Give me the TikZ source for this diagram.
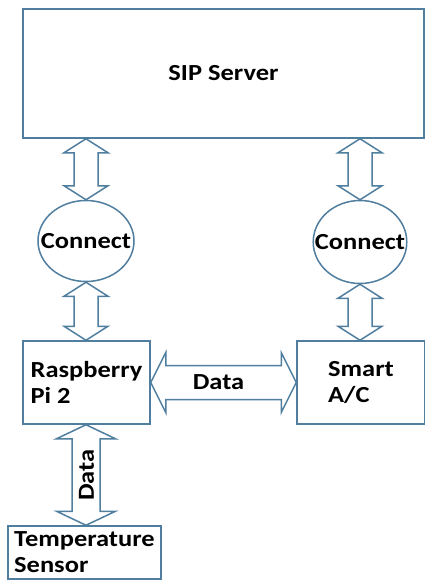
\documentclass[tikz,border=0pt]{standalone}
\usepackage{fontspec}
\setmainfont{Carlito}[FakeStretch=1.15]
\usetikzlibrary{shapes.geometric,calc}

\definecolor{edgeblue}{RGB}{80,126,158}

\tikzset{
  lbl/.style={font=\bfseries\fontsize{23}{26}\selectfont,inner sep=1pt},
  box/.style={lbl,draw=edgeblue,line width=1.5pt,align=left,inner sep=2pt},
  conn/.style={lbl,ellipse,draw=edgeblue,line width=1.5pt,inner xsep=-12pt,inner ysep=0pt},
  fat/.style={draw=edgeblue,line width=1.5pt},
  % vertical double arrow: head half width, shaft half width, head length
  vfat/.style n args={3}{to path={let \p1=(\tikztostart),\p2=(\tikztotarget) in
    (\x1,\y1) -- ({\x1+#1},{\y1-#3}) -- ({\x1+#2},{\y1-#3}) -- ({\x1+#2},{\y2+#3})
    -- ({\x1+#1},{\y2+#3}) -- (\x1,\y2) -- ({\x1-#1},{\y2+#3}) -- ({\x1-#2},{\y2+#3})
    -- ({\x1-#2},{\y1-#3}) -- ({\x1-#1},{\y1-#3}) -- cycle}},
  % horizontal double arrow
  hfat/.style n args={3}{to path={let \p1=(\tikztostart),\p2=(\tikztotarget) in
    (\x1,\y1) -- ({\x1+#3},{\y1+#1}) -- ({\x1+#3},{\y1+#2}) -- ({\x2-#3},{\y1+#2})
    -- ({\x2-#3},{\y1+#1}) -- (\x2,\y1) -- ({\x2-#3},{\y1-#1}) -- ({\x2-#3},{\y1-#2})
    -- ({\x1+#3},{\y1-#2}) -- ({\x1+#3},{\y1-#1}) -- cycle}},
}

\begin{document}
\begin{tikzpicture}[x=1pt,y=-1pt]
\useasboundingbox (0,0) rectangle (425,582);

%boxes
\node[box,minimum width=401pt,minimum height=129pt] (sip) at (223.5,73.5) {SIP Server};
\node[conn,minimum width=96pt,minimum height=81pt] (lc) at (86,241) {Connect};
\node[conn,minimum width=93pt,minimum height=83pt] (rc) at (360,242) {Connect};
\node[box,minimum width=127pt,minimum height=83pt] (rpi) at (86.5,382.5) {Raspberry\\Pi 2};
\node[box,minimum width=128pt,minimum height=83pt] (ac) at (361,382.5) {Smart\\A/C};
\node[box,minimum width=153pt,minimum height=53pt] (temp) at (84.5,552.5) {Temperature\\Sensor};

%arrows
\draw[fat] (sip.south -| lc.north) to[vfat={22pt}{12pt}{14pt}] (lc.north);
\draw[fat] (lc.south) to[vfat={22pt}{12pt}{14pt}] (rpi.north -| lc.south);
\draw[fat] (sip.south -| rc.north) to[vfat={22pt}{12pt}{14pt}] (rc.north);
\draw[fat] (rc.south) to[vfat={22pt}{12pt}{14pt}] (ac.north -| rc.south);
\draw[fat] (rpi.east) to[hfat={30pt}{17pt}{15pt}] (ac.west);
\draw[fat] (rpi.south -| lc.south) to[vfat={29.5pt}{14pt}{14pt}] (temp.north -| lc.south);

%labels
\node[lbl,xshift=-5pt] (d1) at ($(rpi.east)!0.5!(ac.west)$) {Data};
\node[lbl,rotate=90] (d2) at ($(rpi.south)!0.5!(temp.north -| rpi.south)$) {Data};

\end{tikzpicture}
\end{document}
